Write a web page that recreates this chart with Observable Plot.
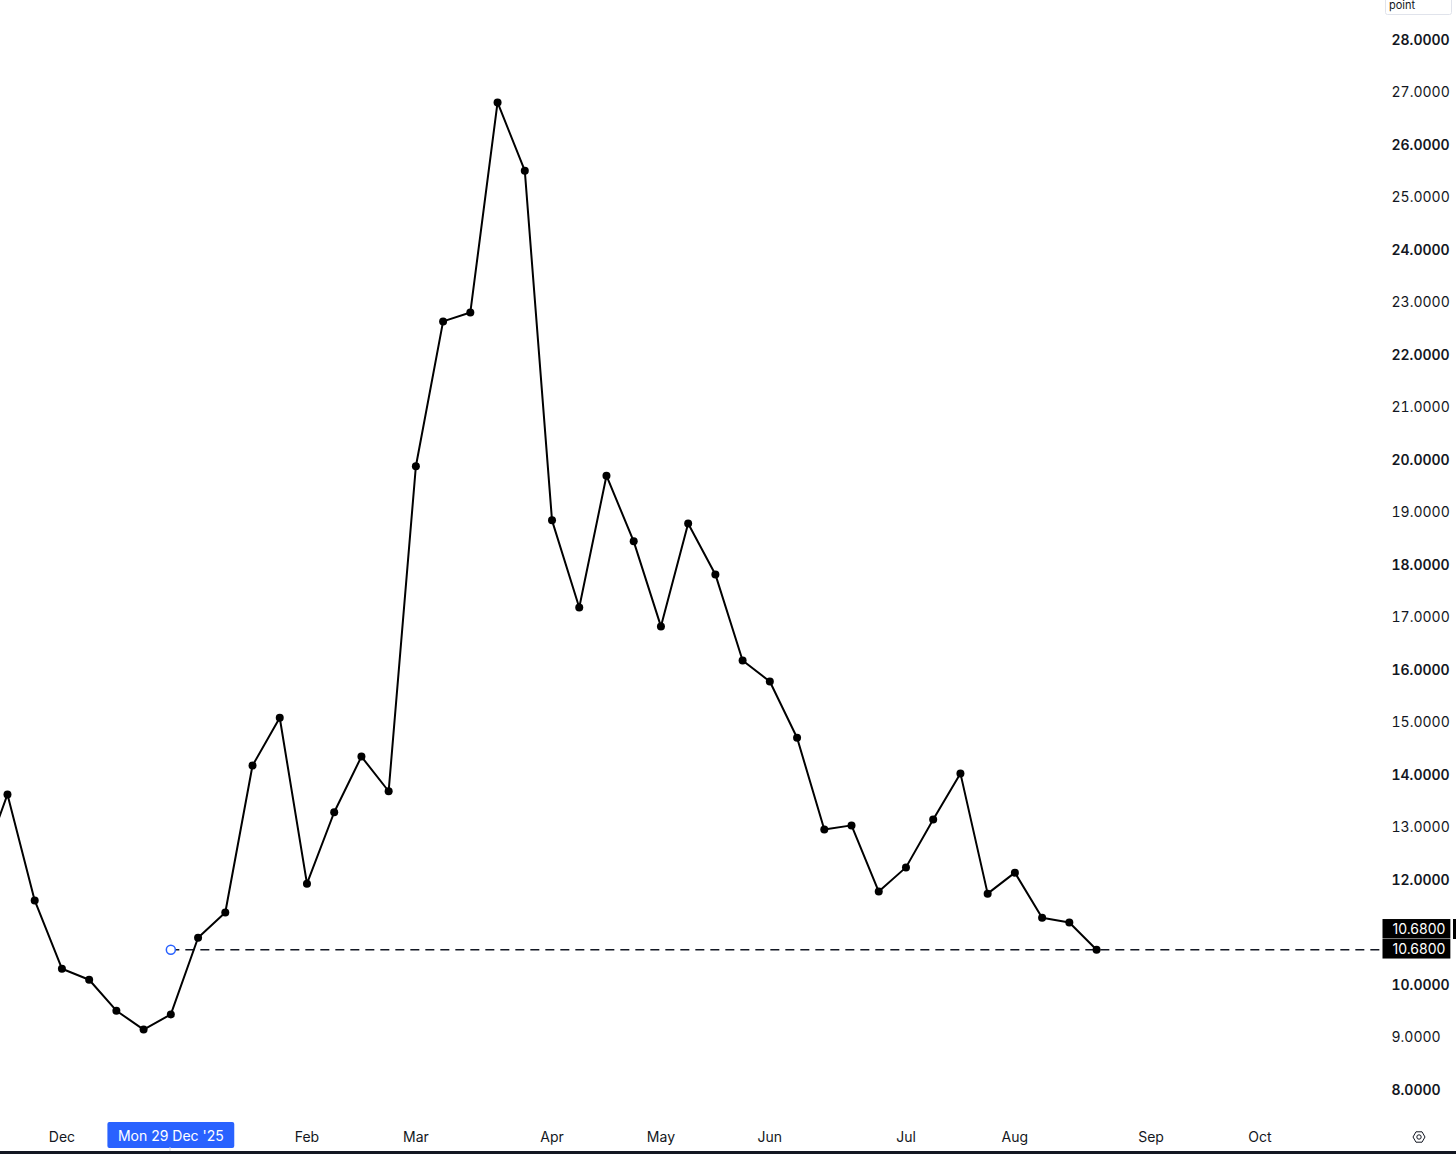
<!DOCTYPE html>
<html><head><meta charset="utf-8">
<script src="https://cdn.jsdelivr.net/npm/d3@7"></script>
<script src="https://cdn.jsdelivr.net/npm/@observablehq/plot@0.6"></script>
<style>body{margin:0;background:#fff} #chart{width:1456px;height:1154px;overflow:hidden}</style>
</head><body><div id="chart"></div>
<script>
// Weekly observations (Mondays)
const weeks = ["2025-11-10","2025-11-17","2025-11-24","2025-12-01","2025-12-08","2025-12-15","2025-12-22","2025-12-29",
  "2026-01-05","2026-01-12","2026-01-19","2026-01-26","2026-02-02","2026-02-09","2026-02-16","2026-02-23",
  "2026-03-02","2026-03-09","2026-03-16","2026-03-23","2026-03-30","2026-04-06","2026-04-13","2026-04-20","2026-04-27",
  "2026-05-04","2026-05-11","2026-05-18","2026-05-25","2026-06-01","2026-06-08","2026-06-15","2026-06-22","2026-06-29",
  "2026-07-06","2026-07-13","2026-07-20","2026-07-27","2026-08-03","2026-08-10","2026-08-17","2026-08-24"];
const values = [12.2,13.64,11.62,10.32,10.11,9.52,9.16,9.45,
  10.91,11.39,14.19,15.10,11.94,13.30,14.36,13.70,
  19.89,22.65,22.82,26.82,25.52,18.86,17.20,19.71,18.46,
  16.84,18.80,17.83,16.19,15.79,14.72,12.97,13.05,11.79,
  12.25,13.16,14.04,11.75,12.15,11.29,11.20,10.68];
const tickDates = ["2025-12-01","2026-02-02","2026-03-02","2026-04-06","2026-05-04","2026-06-01","2026-07-06","2026-08-03","2026-09-07","2026-10-05"];
const tickLabels = ["Dec","Feb","Mar","Apr","May","Jun","Jul","Aug","Sep","Oct"];
const yTicksBold = [8,10,12,14,16,18,20,22,24,26,28];
const yTicksRegular = [9,11,13,15,17,19,21,23,25,27];
const lastPrice = 10.68;
const crosshairDate = "2025-12-29";
const crosshairLabel = "Mon 29 Dec '25";
const xStart = "2025-11-15T05:00:00Z";
const xEnd = "2026-11-05T00:00:00Z";

const toDate = s => new Date(s.length > 10 ? s : s + "T00:00:00Z");
const data = weeks.map((w, i) => ({date: toDate(w), value: values[i]}));
const labelByTime = new Map(tickDates.map((d, i) => [+toDate(d), tickLabels[i]]));
const crossD = toDate(crosshairDate);
const fmt = d => d.toFixed(4);

const chart = Plot.plot({
  width: 1456, height: 1154,
  marginLeft: 0, marginRight: 76, marginTop: 40, marginBottom: 64,
  style: {fontFamily: "Inter, 'Noto Sans', sans-serif", fontSize: "14px", color: "#131722", background: "#fff", overflow: "visible"},
  x: {type: "utc", domain: [toDate(xStart), toDate(xEnd)]},
  y: {domain: [8, 28]},
  marks: [
    Plot.axisX({ticks: tickDates.map(toDate), tickFormat: d => labelByTime.get(+d), tickSize: 0, tickPadding: 42, label: null, fill: "#131722"}),
    Plot.axisY({anchor: "right", ticks: yTicksBold, tickFormat: fmt, tickSize: 0, tickPadding: 11, label: null, fontWeight: 600, fill: "#131722"}),
    Plot.axisY({anchor: "right", ticks: yTicksRegular, tickFormat: fmt, tickSize: 0, tickPadding: 11, label: null, fontWeight: 400, fill: "#131722"}),
    Plot.ruleY([lastPrice], {x1: crossD, x2: toDate(xEnd), stroke: "#131722", strokeWidth: 1.5, strokeDasharray: "9,6"}),
    Plot.line(data, {x: "date", y: "value", stroke: "#000", strokeWidth: 2, clip: true}),
    Plot.dot(data, {x: "date", y: "value", r: 4, fill: "#000", clip: true}),
    Plot.dot([{date: crossD, value: lastPrice}], {x: "date", y: "value", r: 4.5, stroke: "#2962ff", strokeWidth: 1.5, fill: "#fff"}),
    Plot.text([lastPrice], {y: d => d, frameAnchor: "right", dx: 12, dy: -20, text: fmt, textAnchor: "start", fill: "#fff", className: "price-tag"}),
    Plot.text([lastPrice], {y: d => d, frameAnchor: "right", dx: 12, dy: 0, text: fmt, textAnchor: "start", fill: "#fff", className: "price-tag"}),
    Plot.text([crossD], {x: d => d, frameAnchor: "bottom", dy: 50, text: () => crosshairLabel, fill: "#fff", className: "cross-tag"})
  ]
});
document.getElementById("chart").append(chart);

const svg = d3.select(chart);
function addBg(cls, fill, padL, padR, h, rx) {
  svg.selectAll(`g.${cls} text`).each(function() {
    const b = this.getBBox();
    const cy = b.y + b.height / 2;
    const r = d3.select(this.parentNode).insert("rect", () => this)
      .attr("x", b.x - padL).attr("y", cy - h / 2)
      .attr("width", b.width + padL + padR).attr("height", h)
      .attr("rx", rx).attr("fill", fill);
    const t = this.getAttribute("transform");
    if (t) r.attr("transform", t);
  });
}
addBg("price-tag", "#000", 10, 5, 19.5, 0);
addBg("cross-tag", "#2962ff", 10.5, 10.5, 26, 2);

// chrome decorations
svg.append("line").attr("x1", 170).attr("x2", 170).attr("y1", 1147).attr("y2", 1151).attr("stroke", "#d1d4dc");
svg.append("rect").attr("x", 0).attr("y", 1151).attr("width", 1456).attr("height", 3).attr("fill", "#131722");
const gear = svg.append("g").attr("transform", "translate(1419,1137)").attr("fill", "none").attr("stroke", "#131722").attr("stroke-width", 1);
gear.append("path").attr("d", d3.range(6).map((i) => { const a = Math.PI / 3 * i; return (i ? "L" : "M") + (6 * Math.cos(a)).toFixed(2) + "," + (6 * Math.sin(a)).toFixed(2); }).join("") + "Z");
gear.append("circle").attr("r", 2.2);
svg.append("rect").attr("x", 1385.5).attr("y", -2).attr("width", 66).attr("height", 16.5).attr("rx", 2).attr("fill", "#fff").attr("stroke", "#e0e3eb");
svg.append("text").attr("x", 1389).attr("y", 9).attr("font-size", 11).attr("text-anchor", "start").attr("fill", "#131722").text("point");
svg.append("rect").attr("x", 1453).attr("y", 919).attr("width", 3).attr("height", 20).attr("fill", "#000");
</script></body></html>
